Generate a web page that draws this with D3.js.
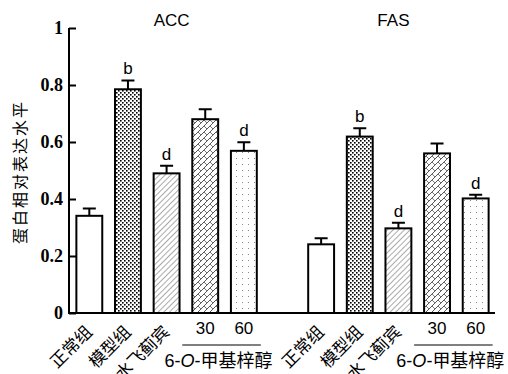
<!DOCTYPE html>
<html>
<head>
<meta charset="utf-8">
<script src="https://cdnjs.cloudflare.com/ajax/libs/d3/7.8.5/d3.min.js"></script>
<style>
body { margin: 0; background: #fff; }
svg { display: block; }
</style>
</head>
<body>
<div id="chart"></div>
<script>
// values
var genes = ["ACC", "FAS"];
var groups = ["正常组", "模型组", "水飞蓟宾", "30", "60"];
var accMean = [0.341, 0.785, 0.490, 0.680, 0.569];
var accErr = [0.026, 0.031, 0.027, 0.035, 0.030];
var accSig = ["", "b", "d", "", "d"];
var fasMean = [0.241, 0.619, 0.297, 0.560, 0.402];
var fasErr = [0.021, 0.029, 0.020, 0.035, 0.013];
var fasSig = ["", "b", "d", "", "d"];
var yTicks = [0, 0.2, 0.4, 0.6, 0.8, 1];
var doseName = "甲基梓醇";

var W = 508, H = 374;
var svg = d3.select("#chart").append("svg")
	.attr("width", W)
	.attr("height", H)
	.attr("font-family", "Arial, 'Liberation Sans', sans-serif");

var defs = svg.append("defs");

// fills for the five groups
var p1 = defs.append("pattern").attr("id", "pat1")
	.attr("patternUnits", "userSpaceOnUse").attr("width", 4).attr("height", 4);
p1.append("rect").attr("width", 4).attr("height", 4).attr("fill", "#fff");
p1.append("rect").attr("x", 0).attr("y", 0).attr("width", 1.6).attr("height", 1.6).attr("fill", "#000");
p1.append("rect").attr("x", 2).attr("y", 2).attr("width", 1.6).attr("height", 1.6).attr("fill", "#000");

var p2 = defs.append("pattern").attr("id", "pat2")
	.attr("patternUnits", "userSpaceOnUse").attr("width", 4).attr("height", 4)
	.attr("patternTransform", "rotate(45)");
p2.append("rect").attr("width", 4).attr("height", 4).attr("fill", "#fff");
p2.append("line").attr("x1", 0).attr("y1", 0).attr("x2", 0).attr("y2", 4)
	.attr("stroke", "#555").attr("stroke-width", 1);

var p3 = defs.append("pattern").attr("id", "pat3")
	.attr("patternUnits", "userSpaceOnUse").attr("width", 6).attr("height", 6);
p3.append("rect").attr("width", 6).attr("height", 6).attr("fill", "#fff");
p3.append("path").attr("d", "M0,6 L6,0 M-1,1 L1,-1 M5,7 L7,5")
	.attr("stroke", "#444").attr("stroke-width", 0.9);
p3.append("path").attr("d", "M0,0 L3,3")
	.attr("stroke", "#555").attr("stroke-width", 0.8);

var p4 = defs.append("pattern").attr("id", "pat4")
	.attr("patternUnits", "userSpaceOnUse").attr("width", 6).attr("height", 6);
p4.append("rect").attr("width", 6).attr("height", 6).attr("fill", "#fff");
p4.append("rect").attr("x", 2).attr("y", 2).attr("width", 1).attr("height", 1).attr("fill", "#888");

var fills = ["#fff", "url(#pat1)", "url(#pat2)", "url(#pat3)", "url(#pat4)"];

var x = d3.scaleBand()
	.domain(d3.range(11))
	.range([70, 495])
	.paddingInner(0.33)
	.paddingOuter(0.165);

var y = d3.scaleLinear().domain([0, 1]).range([313, 28]);

var series = [
	{ gene: genes[0], mean: accMean, err: accErr, sig: accSig, off: 0, shift: 5 },
	{ gene: genes[1], mean: fasMean, err: fasErr, sig: fasSig, off: 6, shift: -5 }
];

series.forEach(function(s) {
	var g = svg.append("g");
	var rows = s.mean.map(function(m, i) {
		return { i: i, slot: i + s.off, m: m, e: s.err[i], sig: s.sig[i] };
	});

	// error bars (upper half only)
	g.selectAll(".err").data(rows).enter().append("path")
		.attr("d", function(d) {
			var cx = x(d.slot) + x.bandwidth() / 2;
			return "M" + cx + "," + y(d.m) + "V" + y(d.m + d.e) +
				"M" + (cx - 6.5) + "," + y(d.m + d.e) + "H" + (cx + 6.5);
		})
		.attr("stroke", "#000").attr("stroke-width", 2).attr("fill", "none");

	g.selectAll(".bar").data(rows).enter().append("rect")
		.attr("x", function(d) { return x(d.slot); })
		.attr("y", function(d) { return y(d.m); })
		.attr("width", x.bandwidth())
		.attr("height", function(d) { return y(0) - y(d.m); })
		.attr("fill", function(d) { return fills[d.i]; })
		.attr("stroke", "#000").attr("stroke-width", 2);

	g.selectAll(".sig").data(rows).enter().append("text")
		.attr("x", function(d) { return x(d.slot) + x.bandwidth() / 2; })
		.attr("y", function(d) { return y(d.m + d.e) - 6; })
		.attr("text-anchor", "middle")
		.attr("font-size", 17)
		.text(function(d) { return d.sig; });

	// gene title
	var mid = (x(s.off) + x(s.off + 4) + x.bandwidth()) / 2 + s.shift;
	g.append("text")
		.attr("x", mid).attr("y", 26)
		.attr("text-anchor", "middle")
		.attr("font-size", 17)
		.text(s.gene);

	// rotated group names
	g.selectAll(".lab").data(rows.slice(0, 3)).enter().append("text")
		.attr("transform", function(d) {
			var cx = x(d.slot) + x.bandwidth() / 2 + 4;
			return "translate(" + cx + ",333) rotate(-45)";
		})
		.attr("text-anchor", "end")
		.attr("font-family", "'Noto Sans CJK SC', sans-serif")
		.attr("font-size", 17)
		.text(function(d) { return groups[d.i]; });

	// dose labels
	g.selectAll(".dose").data(rows.slice(3)).enter().append("text")
		.attr("x", function(d) { return x(d.slot) + x.bandwidth() / 2; })
		.attr("y", 334)
		.attr("text-anchor", "middle")
		.attr("font-size", 17)
		.text(function(d) { return groups[d.i]; });

	var l0 = x(s.off + 3) - 10, l1 = x(s.off + 4) + x.bandwidth() + 4;
	g.append("line")
		.attr("x1", l0).attr("x2", l1).attr("y1", 345).attr("y2", 345)
		.attr("stroke", "#000").attr("stroke-width", 1);

	var t = g.append("text")
		.attr("x", (l0 + l1) / 2 - 3).attr("y", 367)
		.attr("text-anchor", "middle")
		.attr("font-size", 18);
	t.append("tspan").text("6-");
	t.append("tspan").attr("font-style", "italic").text("O");
	t.append("tspan").text("-");
	t.append("tspan").attr("font-family", "'Noto Sans CJK SC', sans-serif")
		.attr("font-size", 18).text(doseName);
});

// axes
var yAxis = svg.append("g")
	.attr("transform", "translate(69,0)")
	.call(d3.axisLeft(y).tickValues(yTicks).tickSize(-7).tickPadding(6)
		.tickFormat(function(d) { return d === 0 ? "0" : d === 1 ? "1" : d3.format(".1f")(d); }));
yAxis.select(".domain").remove();
yAxis.selectAll(".tick line").attr("stroke", "#000").attr("stroke-width", 2);
yAxis.selectAll(".tick text")
	.attr("font-family", "'Liberation Serif', 'Times New Roman', serif")
	.attr("font-weight", "bold")
	.attr("font-size", 18)
	.attr("fill", "#000");

svg.append("path")
	.attr("d", "M69," + y(1) + "V" + y(0) + "H495")
	.attr("fill", "none").attr("stroke", "#000").attr("stroke-width", 2);

svg.append("text")
	.attr("transform", "translate(26,172) rotate(-90)")
	.attr("text-anchor", "middle")
	.attr("font-family", "'Noto Sans CJK SC', sans-serif")
	.attr("font-size", 16)
	.attr("letter-spacing", 2)
	.text("蛋白相对表达水平");
</script>
</body>
</html>
